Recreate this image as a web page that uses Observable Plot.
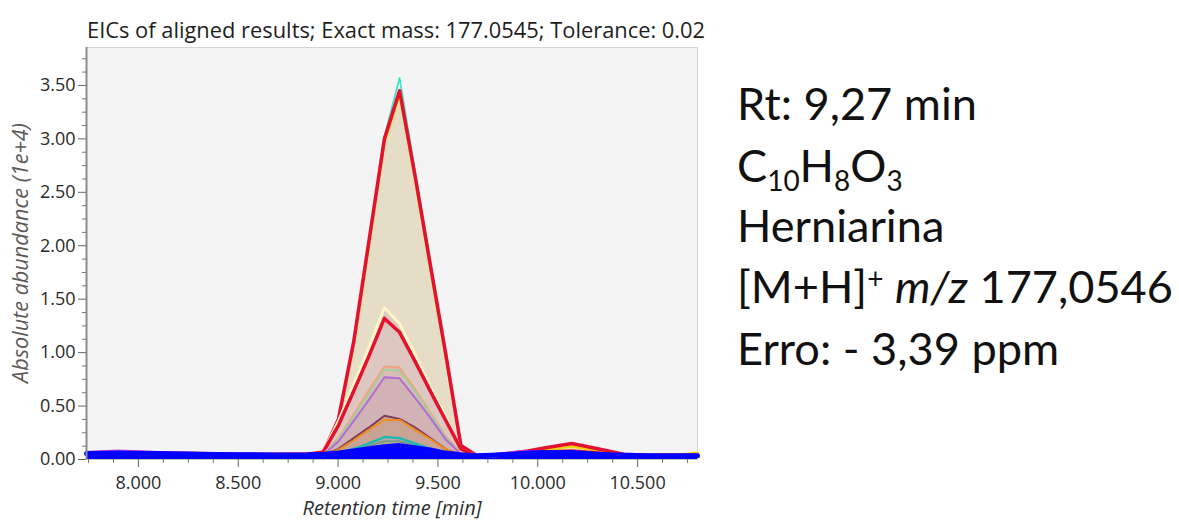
<!DOCTYPE html>
<html>
<head>
<meta charset="utf-8">
<script src="https://cdn.jsdelivr.net/npm/d3@7"></script>
<script src="https://cdn.jsdelivr.net/npm/@observablehq/plot@0.6"></script>
<style>
  html, body { margin: 0; padding: 0; background: #ffffff; }
  #wrap { position: relative; width: 1179px; height: 521px; overflow: hidden; background: #ffffff; }
  #chart { position: absolute; left: 0; top: 0; }
  #overlay { position: absolute; left: 0; top: 0; pointer-events: none; }
</style>
</head>
<body>
<div id="wrap">
  <div id="chart"></div>
  <svg id="overlay" width="1179" height="521"></svg>
</div>
<script>
// ---------------- data (abundance in units of 1e+4) ----------------
const rt = [7.74, 7.9, 8.1, 8.3, 8.5, 8.7, 8.848, 8.925, 9.002, 9.078, 9.155, 9.232, 9.308, 9.385,
            9.462, 9.538, 9.615, 9.692, 9.77, 9.87, 9.95, 10.04, 10.17, 10.3, 10.43, 10.55, 10.68, 10.8];

const sCyan    = [0.05, 0.06, 0.05, 0.05, 0.045, 0.045, 0.05, 0.06, 0.38, 1.10, 2.05, 3.02, 3.57, 2.70, 1.85, 1.02, 0.14, 0.04, 0.03, 0.04, 0.05, 0.06, 0.07, 0.05, 0.04, 0.04, 0.04, 0.04];
const sYellow  = [0.05, 0.06, 0.05, 0.05, 0.045, 0.045, 0.05, 0.06, 0.36, 1.06, 2.00, 2.96, 3.41, 2.62, 1.78, 0.97, 0.13, 0.04, 0.03, 0.05, 0.07, 0.09, 0.12, 0.08, 0.04, 0.04, 0.04, 0.065];
const sRed     = [0.06, 0.07, 0.06, 0.055, 0.05, 0.05, 0.05, 0.06, 0.38, 1.10, 2.05, 3.00, 3.45, 2.66, 1.82, 1.00, 0.13, 0.04, 0.03, 0.06, 0.08, 0.11, 0.15, 0.10, 0.05, 0.04, 0.04, 0.04];
const sCream   = [0.05, 0.06, 0.05, 0.05, 0.045, 0.045, 0.05, 0.07, 0.36, 0.70, 1.05, 1.42, 1.27, 0.98, 0.68, 0.40, 0.10, 0.03, 0.03, 0.05, 0.06, 0.07, 0.08, 0.06, 0.04, 0.04, 0.04, 0.04];
const sRed2    = [0.05, 0.06, 0.05, 0.05, 0.045, 0.045, 0.05, 0.07, 0.32, 0.64, 0.97, 1.32, 1.19, 0.92, 0.64, 0.37, 0.10, 0.03, 0.03, 0.05, 0.06, 0.07, 0.08, 0.06, 0.04, 0.04, 0.04, 0.04];
const sSalmon  = [0.05, 0.06, 0.05, 0.05, 0.045, 0.045, 0.05, 0.05, 0.20, 0.42, 0.65, 0.87, 0.86, 0.66, 0.44, 0.22, 0.06, 0.03, 0.03, 0.05, 0.06, 0.06, 0.06, 0.05, 0.04, 0.04, 0.04, 0.04];
const sGreen   = [0.05, 0.06, 0.05, 0.05, 0.045, 0.045, 0.05, 0.04, 0.19, 0.40, 0.62, 0.84, 0.83, 0.64, 0.42, 0.21, 0.05, 0.03, 0.03, 0.05, 0.06, 0.06, 0.06, 0.05, 0.04, 0.04, 0.04, 0.04];
const sPurple  = [0.05, 0.06, 0.05, 0.05, 0.045, 0.045, 0.05, 0.04, 0.17, 0.36, 0.56, 0.77, 0.76, 0.58, 0.39, 0.19, 0.05, 0.03, 0.03, 0.06, 0.07, 0.06, 0.06, 0.05, 0.04, 0.04, 0.04, 0.04];
const sPlum    = [0.05, 0.06, 0.05, 0.05, 0.045, 0.045, 0.05, 0.04, 0.10, 0.20, 0.30, 0.41, 0.38, 0.30, 0.20, 0.10, 0.04, 0.03, 0.03, 0.05, 0.06, 0.06, 0.06, 0.05, 0.04, 0.04, 0.04, 0.04];
const sOrange  = [0.05, 0.06, 0.05, 0.05, 0.045, 0.045, 0.05, 0.04, 0.09, 0.18, 0.28, 0.37, 0.37, 0.28, 0.19, 0.10, 0.04, 0.03, 0.03, 0.05, 0.06, 0.06, 0.06, 0.05, 0.04, 0.04, 0.04, 0.04];
const sTeal    = [0.05, 0.06, 0.05, 0.05, 0.045, 0.045, 0.05, 0.04, 0.06, 0.10, 0.15, 0.21, 0.20, 0.15, 0.10, 0.06, 0.04, 0.03, 0.03, 0.05, 0.06, 0.06, 0.06, 0.05, 0.04, 0.04, 0.04, 0.04];
const sGrayGrn = [0.05, 0.06, 0.05, 0.05, 0.045, 0.045, 0.05, 0.04, 0.05, 0.09, 0.13, 0.17, 0.17, 0.13, 0.09, 0.05, 0.04, 0.03, 0.03, 0.05, 0.06, 0.06, 0.06, 0.05, 0.04, 0.04, 0.04, 0.04];
const sMagenta = [0.07, 0.085, 0.07, 0.06, 0.055, 0.05, 0.05, 0.05, 0.06, 0.08, 0.10, 0.12, 0.12, 0.10, 0.08, 0.06, 0.04, 0.03, 0.05, 0.07, 0.08, 0.075, 0.06, 0.05, 0.04, 0.04, 0.04, 0.04];
const sBlue    = [0.055, 0.06, 0.055, 0.05, 0.045, 0.042, 0.045, 0.05, 0.06, 0.08, 0.10, 0.12, 0.13, 0.11, 0.09, 0.06, 0.045, 0.035, 0.04, 0.05, 0.06, 0.065, 0.065, 0.05, 0.04, 0.035, 0.035, 0.035];

const xTicks = [8.0, 8.5, 9.0, 9.5, 10.0, 10.5];
const xMinor = [7.75, 7.875, 8.125, 8.25, 8.375, 8.625, 8.75, 8.875, 9.125, 9.25, 9.375, 9.625, 9.75, 9.875,
                10.125, 10.25, 10.375, 10.625, 10.75];
const yTicks = [0.0, 0.5, 1.0, 1.5, 2.0, 2.5, 3.0, 3.5];
const yMinor = [0.125, 0.25, 0.375, 0.625, 0.75, 0.875, 1.125, 1.25, 1.375, 1.625, 1.75, 1.875, 2.125, 2.25,
                2.375, 2.625, 2.75, 2.875, 3.125, 3.25, 3.375, 3.625, 3.75];

const titleText = "EICs of aligned results; Exact mass: 177.0545; Tolerance: 0.02";
const xLabel = "Retention time [min]";
const yLabel = "Absolute abundance (1e+4)";

// ---------------- styles ----------------
const xDomain = [7.74, 10.80];
const yDomain = [0, 3.855];

const rows = (vals) => rt.map((t, i) => ({rt: t, v: vals[i]}));

const areaLayers = [
  [sRed, "#e6ddc6"],
  [sCream, "#ddc7c0"],
  [sSalmon, "#d8bdb9"],
  [sPurple, "#d2b3b5"],
  [sPlum, "#c9a393"],
  [sTeal, "#b7a89e"],
  [sBlue, "#0000ff"]
];
const lineLayers = [
  [sCyan, "#3fe6cc", 1.8],
  [sYellow, "#f2d300", 2.2],
  [sRed, "#e3112d", 3.5],
  [sCream, "#fff6c8", 3],
  [sRed2, "#e3112d", 3.5],
  [sSalmon, "#f2a184", 2],
  [sGreen, "#a3cf98", 2],
  [sPurple, "#b26ad6", 2],
  [sPlum, "#7e3d5f", 2],
  [sOrange, "#ef8d22", 2],
  [sGrayGrn, "#7a9a88", 2],
  [sTeal, "#22b8b2", 2.5],
  [sMagenta, "#e040e0", 2],
  [sBlue, "#0000ff", 5]
];

const marks = [
  Plot.frame({fill: "#f4f4f4", stroke: "#d6d6d6"}),
  ...areaLayers.map(([vals, fill]) => Plot.areaY(rows(vals), {x: "rt", y: "v", fill: fill})),
  ...lineLayers.map(([vals, stroke, w]) => Plot.lineY(rows(vals), {x: "rt", y: "v", stroke: stroke, strokeWidth: w, strokeLinejoin: "round"})),
  Plot.ruleX([xDomain[0]], {stroke: "#8c8c8c", strokeWidth: 2}),
  Plot.ruleY([0], {stroke: "#c4c4c4", strokeWidth: 1}),
  Plot.axisX({ticks: xTicks, tickFormat: d3.format(".3f"), tickSize: 8, tickPadding: 9, stroke: "#666", label: null}),
  Plot.axisX({ticks: xMinor, tickFormat: () => "", tickSize: 4, stroke: "#777", label: null}),
  Plot.axisY({ticks: yTicks, tickFormat: d3.format(".2f"), tickSize: 8, tickPadding: 3, stroke: "#666", label: null}),
  Plot.axisY({ticks: yMinor, tickFormat: () => "", tickSize: 4, stroke: "#777", label: null})
];

const chart = Plot.plot({
  width: 720,
  height: 521,
  marginLeft: 86,
  marginRight: 23,
  marginTop: 47,
  marginBottom: 62,
  style: {fontFamily: '"Open Sans", sans-serif', fontSize: "18px", color: "#2a2a2a", background: "transparent"},
  x: {domain: xDomain},
  y: {domain: yDomain},
  marks
});
document.getElementById("chart").appendChild(chart);

// ---------------- text overlay ----------------
const NS = "http://www.w3.org/2000/svg";
const ov = document.getElementById("overlay");
function makeText(attrs, parts) {
  const t = document.createElementNS(NS, "text");
  for (const k in attrs) t.setAttribute(k, attrs[k]);
  for (const p of parts) {
    const s = document.createElementNS(NS, "tspan");
    s.textContent = p.t;
    if (p.size != null) s.setAttribute("font-size", p.size);
    if (p.dy != null) s.setAttribute("dy", p.dy);
    if (p.italic) s.setAttribute("font-style", "italic");
    t.appendChild(s);
  }
  ov.appendChild(t);
  return t;
}
function fit(el, target) {
  const w = el.getComputedTextLength();
  const fs = parseFloat(el.getAttribute("font-size"));
  if (w > 0) el.setAttribute("font-size", (fs * target / w).toFixed(2));
}

const title = makeText({x: 87, y: 38, "font-family": '"Open Sans", sans-serif', "font-size": 18, fill: "#1e1e1e"}, [{t: titleText}]);
fit(title, 618);

const xl = makeText({x: 392, y: 515, "text-anchor": "middle", "font-family": '"Open Sans", sans-serif', "font-size": 16, "font-style": "italic", fill: "#2e2e2e"}, [{t: xLabel}]);
fit(xl, 179);

const yl = makeText({transform: "translate(28,253) rotate(-90)", "text-anchor": "middle", "font-family": '"Open Sans", sans-serif', "font-size": 16, "font-style": "italic", fill: "#5c5a58"}, [{t: yLabel}]);
fit(yl, 260);

// annotation block
const annX = 737;
const annBase = [120, 182, 242, 303, 365];
function buildAnnotation(F) {
  while (ov.querySelector(".ann")) ov.removeChild(ov.querySelector(".ann"));
  const common = (y) => ({class: "ann", x: annX, y: y, "font-family": 'Lato, "Open Sans", sans-serif', "font-size": F, fill: "#111"});
  const sub = 0.62 * F, dS = 0.2 * F, dP = 0.31 * F;
  makeText(common(annBase[0]), [{t: "Rt: 9,27 min"}]);
  makeText(common(annBase[1]), [
    {t: "C"}, {t: "10", size: sub, dy: dS}, {t: "H", size: F, dy: -dS},
    {t: "8", size: sub, dy: dS}, {t: "O", size: F, dy: -dS}, {t: "3", size: sub, dy: dS}
  ]);
  makeText(common(annBase[2]), [{t: "Herniarina"}]);
  const l4 = makeText(common(annBase[3]), [
    {t: "[M+H]"}, {t: "+", size: sub, dy: -dP}, {t: " ", size: F, dy: dP},
    {t: "m/z", italic: true}, {t: " 177,0546"}
  ]);
  makeText(common(annBase[4]), [{t: "Erro: - 3,39 ppm"}]);
  return l4;
}
const l4 = buildAnnotation(45);
const w4 = l4.getComputedTextLength();
if (w4 > 0) buildAnnotation(45 * 436 / w4);
</script>
</body>
</html>
